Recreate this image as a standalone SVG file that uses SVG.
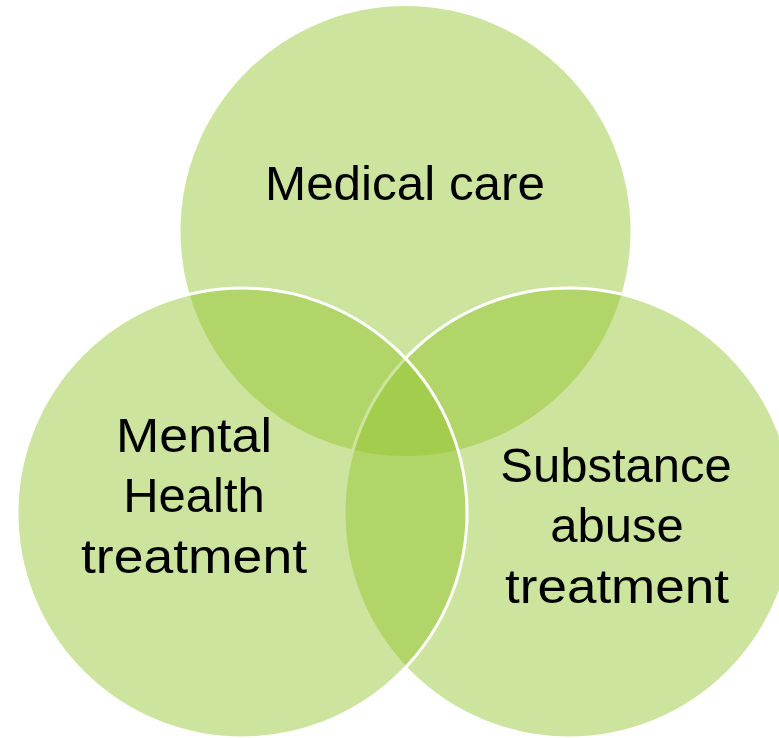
<svg xmlns="http://www.w3.org/2000/svg" width="779" height="738" viewBox="0 0 779 738">
  <style>
    .ring { fill: #92C42C; fill-opacity: 0.46; }
    .edge { stroke: #FFFFFF; stroke-width: 3; }
    .label { font-family: "Liberation Sans", Arial, sans-serif; font-size: 49px; fill: #000000; text-anchor: middle; }
  </style>
  <rect x="0" y="0" width="779" height="738" fill="#FFFFFF"/>

  <!-- three overlapping service areas -->
  <g id="medical-care">
    <circle class="ring" cx="405.5" cy="231" r="225"/>
    <text class="label" x="405" y="200" textLength="280" lengthAdjust="spacingAndGlyphs">Medical care</text>
  </g>
  <g id="substance-abuse-treatment">
    <circle class="ring edge" cx="569" cy="513" r="225"/>
  </g>
  <g id="mental-health-treatment">
    <circle class="ring edge" cx="242" cy="513" r="225"/>
  </g>

  <!-- labels drawn above all fills -->
  <g id="labels">
    <text class="label" x="194" y="452" textLength="156" lengthAdjust="spacingAndGlyphs">Mental</text>
    <text class="label" x="194" y="512">Health</text>
    <text class="label" x="194" y="573" textLength="226" lengthAdjust="spacingAndGlyphs">treatment</text>
    <text class="label" x="616" y="482">Substance</text>
    <text class="label" x="617" y="542">abuse</text>
    <text class="label" x="617" y="603" textLength="224" lengthAdjust="spacingAndGlyphs">treatment</text>
  </g>
  <g id="connectors"/>
</svg>
